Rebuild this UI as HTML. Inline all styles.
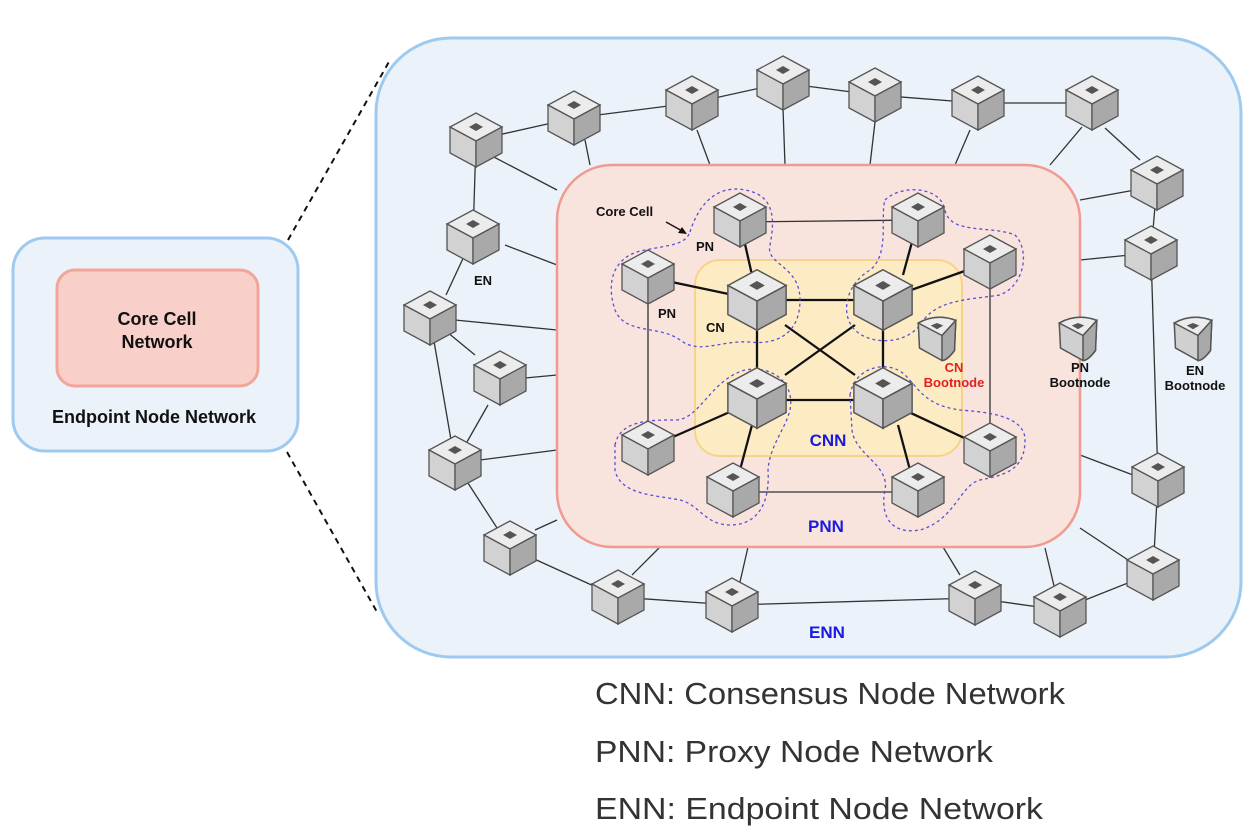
<!DOCTYPE html>
<html><head><meta charset="utf-8"><style>
body{margin:0;width:1254px;height:828px;background:#fff;overflow:hidden;font-family:"Liberation Sans",sans-serif}
</style></head><body>
<svg width="1254" height="828" viewBox="0 0 1254 828" xmlns="http://www.w3.org/2000/svg" font-family="Liberation Sans, sans-serif">
<defs>
<g id="c">
<polygon points="0,-27 26,-13 0,1 -26,-13" fill="#ececec" stroke="#555" stroke-width="1.3"/>
<polygon points="-26,-13 0,1 0,27 -26,13" fill="#d2d2d2" stroke="#555" stroke-width="1.3"/>
<polygon points="26,-13 0,1 0,27 26,13" fill="#a9a9a9" stroke="#555" stroke-width="1.3"/>
<polygon points="0,-17 7,-13 0,-9 -7,-13" fill="#555"/>
</g>
<g id="b">
<path d="M-15,-12 Q0,-20 15,-14 L14,10 Q8,18 4,18 L-14,8 Z" fill="#d0d0d0" stroke="#555" stroke-width="1.2"/>
<path d="M-15,-12 Q0,-20 15,-14 L4,-2 Z" fill="#ececec" stroke="#555" stroke-width="1.2"/>
<path d="M4,-2 L15,-14 L14,10 Q8,18 4,18 Z" fill="#a9a9a9" stroke="#555" stroke-width="1.2"/>
<polygon points="0,-12 5,-10 0,-7 -5,-10" fill="#555"/>
</g>
</defs>
<rect x="13" y="238" width="285" height="213" rx="32" fill="#ebf2fa" stroke="#9fcaf0" stroke-width="3"/>
<rect x="57" y="270" width="201" height="116" rx="18" fill="#f9d0c9" stroke="#f2a59b" stroke-width="3"/>
<text x="157" y="325" text-anchor="middle" font-size="18" font-weight="bold" fill="#111">Core Cell</text>
<text x="157" y="348" text-anchor="middle" font-size="18" font-weight="bold" fill="#111">Network</text>
<text x="154" y="423" text-anchor="middle" font-size="18" font-weight="bold" fill="#111">Endpoint Node Network</text>
<line x1="288" y1="240" x2="390" y2="60" stroke="#111" stroke-width="2" stroke-dasharray="6,5"/>
<line x1="287" y1="452" x2="377" y2="612" stroke="#111" stroke-width="2" stroke-dasharray="6,5"/>
<rect x="376" y="38" width="865" height="619" rx="75" fill="#ebf2fa" stroke="#9fcaf0" stroke-width="3"/>
<g stroke="#333" stroke-width="1.3">
<polyline fill="none" points="476,140 574,118 692,103 783,83 875,95 978,103 1092,103"/>
<line x1="1105" y1="128" x2="1140" y2="160"/>
<line x1="1157" y1="183" x2="1151" y2="253"/>
<line x1="1151" y1="253" x2="1158" y2="480"/>
<line x1="1158" y1="480" x2="1153" y2="573"/>
<line x1="1153" y1="573" x2="1060" y2="610"/>
<line x1="1060" y1="610" x2="975" y2="598"/>
<line x1="975" y1="598" x2="732" y2="605"/>
<line x1="732" y1="605" x2="618" y2="597"/>
<line x1="618" y1="597" x2="510" y2="548"/>
<line x1="510" y1="548" x2="455" y2="463"/>
<line x1="455" y1="463" x2="430" y2="318"/>
<line x1="455" y1="463" x2="488" y2="405"/>
<line x1="430" y1="318" x2="475" y2="355"/>
<line x1="473" y1="237" x2="446" y2="295"/>
<line x1="476" y1="140" x2="473" y2="237"/>
<line x1="490" y1="155" x2="557" y2="190"/>
<line x1="505" y1="245" x2="557" y2="265"/>
<line x1="455" y1="320" x2="557" y2="330"/>
<line x1="525" y1="378" x2="557" y2="375"/>
<line x1="480" y1="460" x2="557" y2="450"/>
<line x1="535" y1="530" x2="557" y2="520"/>
<line x1="585" y1="140" x2="590" y2="165"/>
<line x1="697" y1="130" x2="710" y2="165"/>
<line x1="783" y1="108" x2="785" y2="165"/>
<line x1="875" y1="122" x2="870" y2="165"/>
<line x1="970" y1="130" x2="955" y2="165"/>
<line x1="1082" y1="127" x2="1050" y2="165"/>
<line x1="1080" y1="200" x2="1135" y2="190"/>
<line x1="1080" y1="260" x2="1130" y2="255"/>
<line x1="1080" y1="455" x2="1133" y2="475"/>
<line x1="1080" y1="528" x2="1128" y2="560"/>
<line x1="1045" y1="548" x2="1055" y2="590"/>
<line x1="943" y1="547" x2="960" y2="575"/>
<line x1="748" y1="547" x2="740" y2="582"/>
<line x1="660" y1="547" x2="632" y2="575"/>
</g>
<rect x="557" y="165" width="523" height="382" rx="55" fill="#f8e3dd" stroke="#f09a90" stroke-width="2.5"/>
<rect x="695" y="260" width="267" height="196" rx="25" fill="#fdecc3" stroke="#f6d38a" stroke-width="2"/>
<g stroke="#333" stroke-width="1.3">
<line x1="740" y1="222" x2="918" y2="220"/>
<line x1="733" y1="492" x2="918" y2="492"/>
<line x1="648" y1="277" x2="648" y2="448"/>
<line x1="990" y1="262" x2="990" y2="450"/>
</g>
<g stroke="#111" stroke-width="2.3">
<line x1="757" y1="300" x2="883" y2="300"/>
<line x1="757" y1="400" x2="883" y2="400"/>
<line x1="757" y1="300" x2="757" y2="400"/>
<line x1="883" y1="300" x2="883" y2="400"/>
<line x1="785" y1="325" x2="855" y2="375"/>
<line x1="855" y1="325" x2="785" y2="375"/>
<line x1="648" y1="277" x2="757" y2="300"/>
<line x1="740" y1="222" x2="752" y2="275"/>
<line x1="918" y1="220" x2="903" y2="275"/>
<line x1="990" y1="262" x2="883" y2="300"/>
<line x1="648" y1="448" x2="757" y2="400"/>
<line x1="740" y1="470" x2="752" y2="425"/>
<line x1="910" y1="470" x2="898" y2="425"/>
<line x1="990" y1="450" x2="883" y2="400"/>
</g>
<g fill="none" stroke="#5a4fd6" stroke-width="1.3" stroke-dasharray="3,3">
<path d="M690,232 C700,200 720,185 745,190 C775,195 775,220 770,245 C765,265 800,265 800,300 C800,335 775,345 750,342 C720,340 700,355 680,340 C660,325 625,335 615,310 C605,280 615,255 645,250 C670,245 685,245 690,232 Z"/>
<path d="M885,200 C900,185 940,185 945,210 C950,235 990,225 1015,235 C1030,250 1025,285 1000,295 C965,300 935,300 920,325 C905,345 870,345 855,330 C840,315 845,285 870,270 C890,255 880,215 885,200 Z"/>
<path d="M615,445 C620,420 650,420 675,420 C700,420 710,380 745,370 C775,365 795,385 790,410 C785,430 770,445 768,470 C770,500 760,525 730,525 C705,525 700,505 680,500 C655,495 620,495 615,470 Z"/>
<path d="M850,395 C855,365 890,360 905,375 C920,390 925,405 960,410 C985,412 1025,415 1025,440 C1025,470 1005,475 980,480 C960,485 955,520 920,530 C890,535 880,515 885,490 C890,465 855,455 852,430 Z"/>
</g>
<g>
<use href="#c" x="476" y="140"/><use href="#c" x="574" y="118"/><use href="#c" x="692" y="103"/><use href="#c" x="783" y="83"/><use href="#c" x="875" y="95"/><use href="#c" x="978" y="103"/><use href="#c" x="1092" y="103"/><use href="#c" x="1157" y="183"/><use href="#c" x="1151" y="253"/><use href="#c" x="473" y="237"/><use href="#c" x="430" y="318"/><use href="#c" x="500" y="378"/><use href="#c" x="455" y="463"/><use href="#c" x="510" y="548"/><use href="#c" x="618" y="597"/><use href="#c" x="732" y="605"/><use href="#c" x="975" y="598"/><use href="#c" x="1060" y="610"/><use href="#c" x="1153" y="573"/><use href="#c" x="1158" y="480"/>
<use href="#c" x="740" y="220"/><use href="#c" x="918" y="220"/><use href="#c" x="648" y="277"/><use href="#c" x="990" y="262"/><use href="#c" x="648" y="448"/><use href="#c" x="733" y="490"/><use href="#c" x="918" y="490"/><use href="#c" x="990" y="450"/>
<use href="#c" transform="translate(757,300) scale(1.12)"/><use href="#c" transform="translate(883,300) scale(1.12)"/><use href="#c" transform="translate(757,398) scale(1.12)"/><use href="#c" transform="translate(883,398) scale(1.12)"/>
<use href="#b" transform="translate(937,338) scale(1.25)"/><use href="#b" transform="translate(1078,338) scale(1.25)"/><use href="#b" transform="translate(1193,338) scale(1.25)"/>
</g>
<g font-size="13" font-weight="bold" fill="#111">
<text x="596" y="216">Core Cell</text>
<text x="696" y="251">PN</text>
<text x="658" y="318">PN</text>
<text x="706" y="332">CN</text>
<text x="474" y="285">EN</text>
<text x="1080" y="372" text-anchor="middle">PN</text>
<text x="1080" y="387" text-anchor="middle">Bootnode</text>
<text x="1195" y="375" text-anchor="middle">EN</text>
<text x="1195" y="390" text-anchor="middle">Bootnode</text>
<text x="954" y="372" text-anchor="middle" fill="#e02020">CN</text>
<text x="954" y="387" text-anchor="middle" fill="#e02020">Bootnode</text>
</g>
<line x1="666" y1="222" x2="684" y2="232" stroke="#111" stroke-width="1.3"/>
<polygon points="687,234 678,233 682,227" fill="#111"/>
<g font-size="17" font-weight="bold" fill="#1a1ae0">
<text x="828" y="446" text-anchor="middle">CNN</text>
<text x="826" y="532" text-anchor="middle">PNN</text>
<text x="827" y="638" text-anchor="middle">ENN</text>
</g>
<g font-size="31" fill="#333">
<text x="595" y="704" textLength="470" lengthAdjust="spacingAndGlyphs">CNN: Consensus Node Network</text>
<text x="595" y="762" textLength="398" lengthAdjust="spacingAndGlyphs">PNN: Proxy Node Network</text>
<text x="595" y="819" textLength="448" lengthAdjust="spacingAndGlyphs">ENN: Endpoint Node Network</text>
</g>
</svg>
</body></html>
